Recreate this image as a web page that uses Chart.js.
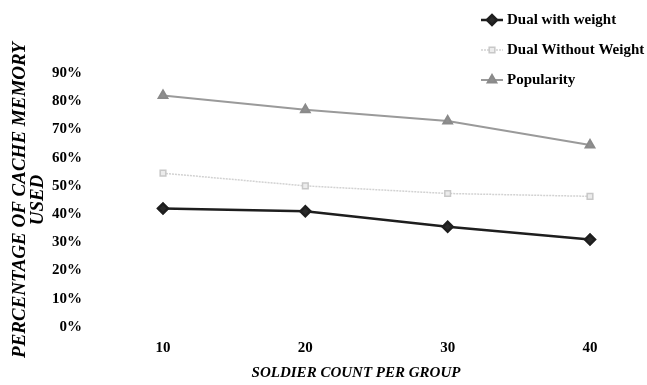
<!DOCTYPE html>
<html>
<head>
<meta charset="utf-8">
<script src="https://cdn.jsdelivr.net/npm/chart.js@4/dist/chart.umd.min.js"></script>
<style>
  html, body { margin: 0; padding: 0; background: #fff; }
  #wrap { width: 647px; height: 385px; position: relative; }
</style>
</head>
<body>
<div id="wrap"><canvas id="cache_chart"></canvas></div>
<script>
const categories = ['10', '20', '30', '40'];
const dualWithWeight = [42, 41, 35.5, 31];
const dualWithoutWeight = [54.5, 50, 47.3, 46.3];
const popularity = [82, 77, 73, 64.5];
const yTicks = [0, 10, 20, 30, 40, 50, 60, 70, 80, 90];
const xTitle = 'SOLDIER COUNT PER GROUP';
const yTitle = ['PERCENTAGE OF CACHE MEMORY', 'USED'];

const serif = "'Liberation Serif', 'Times New Roman', serif";

// Legende oben rechts, vertikal gestapelt
const sideLegend = {
  id: 'sideLegend',
  afterDraw(chart) {
    const ctx = chart.ctx;
    const rows = [20, 50, 80];
    ctx.save();
    chart.data.datasets.forEach((ds, i) => {
      const y = rows[i];
      ctx.strokeStyle = ds.borderColor;
      ctx.lineWidth = ds.borderWidth;
      ctx.setLineDash(ds.borderDash || []);
      ctx.beginPath();
      ctx.moveTo(481, y);
      ctx.lineTo(503, y);
      ctx.stroke();
      ctx.setLineDash([]);
      ctx.fillStyle = ds.pointBackgroundColor;
      ctx.strokeStyle = ds.pointBorderColor;
      Chart.helpers.drawPoint(ctx, {
        pointStyle: ds.pointStyle,
        radius: ds.pointRadius,
        rotation: 0,
        borderWidth: 1
      }, 492, y);
      ctx.fillStyle = '#000';
      ctx.font = "bold 15px " + serif;
      ctx.textBaseline = 'middle';
      ctx.textAlign = 'left';
      ctx.fillText(ds.label, 507, y);
    });
    ctx.restore();
  }
};

// x-Achsentitel sitzt im Original etwas links von der Mitte
const xCaption = {
  id: 'xCaption',
  afterDraw(chart) {
    const ctx = chart.ctx;
    ctx.save();
    ctx.fillStyle = '#000';
    ctx.font = "italic bold 15px " + serif;
    ctx.textAlign = 'center';
    ctx.textBaseline = 'middle';
    ctx.fillText(xTitle, 356, 373);
    ctx.restore();
  }
};

const ctx = document.getElementById('cache_chart').getContext('2d');
window.cacheChart = new Chart(ctx, {
  type: 'line',
  data: {
    labels: categories,
    datasets: [
      {
        label: 'Dual with weight',
        data: dualWithWeight,
        borderColor: '#1e1e1e',
        borderWidth: 2.5,
        pointStyle: 'rectRot',
        pointRadius: 5,
        pointBackgroundColor: '#2a2a2a',
        pointBorderColor: '#1e1e1e',
        tension: 0
      },
      {
        label: 'Dual Without Weight',
        data: dualWithoutWeight,
        borderColor: '#d2d2d2',
        borderWidth: 1.5,
        borderDash: [2, 1],
        pointStyle: 'rect',
        pointRadius: 4,
        pointBackgroundColor: '#ececec',
        pointBorderColor: '#c8c8c8',
        tension: 0
      },
      {
        label: 'Popularity',
        data: popularity,
        borderColor: '#9a9a9a',
        borderWidth: 2,
        pointStyle: 'triangle',
        pointRadius: 5,
        pointBackgroundColor: '#8f8f8f',
        pointBorderColor: '#8a8a8a',
        tension: 0
      }
    ]
  },
  options: {
    responsive: true,
    maintainAspectRatio: false,
    animation: false,
    layout: { padding: { top: 73, right: 57, left: 0, bottom: 0 } },
    plugins: {
      legend: { display: false },
      tooltip: { enabled: false }
    },
    scales: {
      x: {
        offset: false,
        grid: { display: false, drawTicks: false },
        border: { display: false },
        ticks: {
          color: '#000',
          padding: 12,
          font: { family: serif, size: 15, weight: 'bold' }
        },
        afterFit(scale) { scale.height = 58; }
      },
      y: {
        min: 0,
        max: 90,
        grid: { display: false, drawTicks: false },
        border: { display: false },
        afterBuildTicks(scale) { scale.ticks = yTicks.map(v => ({ value: v })); },
        ticks: {
          color: '#000',
          padding: 81,
          font: { family: serif, size: 15, weight: 'bold' },
          callback: v => v + '%'
        },
        title: {
          display: true,
          text: yTitle,
          color: '#000',
          padding: { top: 12, bottom: 0 },
          font: { family: serif, size: 19, weight: 'bold', style: 'italic', lineHeight: 0.9 }
        },
        afterFit(scale) {
          scale.width = 163;
          // grosses Tick-Padding soll oben/unten keinen Platz fressen
          scale.paddingTop = 9;
          scale.paddingBottom = 9;
        }
      }
    }
  },
  plugins: [sideLegend, xCaption]
});
</script>
</body>
</html>
